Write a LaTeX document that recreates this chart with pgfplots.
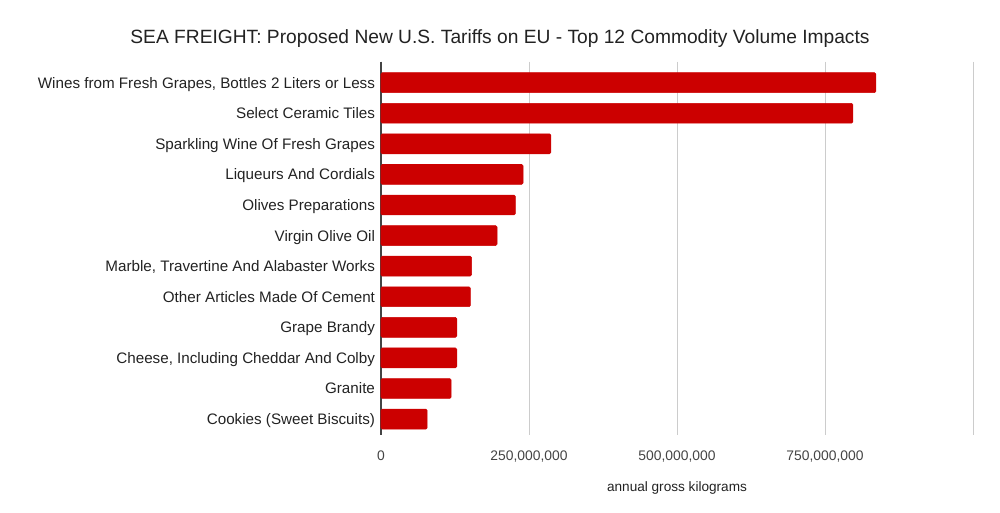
\documentclass[border=0pt]{standalone}
\usepackage{pgfplots}
\pgfplotsset{compat=1.18}
\usepackage{fontspec}
\setmainfont{Liberation Sans}
\definecolor{barred}{HTML}{CC0000}
\definecolor{txt}{HTML}{222222}
\definecolor{ticktxt}{HTML}{444444}
\definecolor{gridc}{HTML}{CCCCCC}
\begin{document}
\begin{tikzpicture}
\path[use as bounding box] (-285.75pt,-58.5pt) rectangle (464.25pt,326.25pt);
\begin{axis}[
  at={(0pt,0pt)}, anchor=south west,
  scale only axis,
  width=444pt, height=280pt,
  xbar, bar width=0.65,
  xmin=0, xmax=1000000000,
  ymin=-0.687, ymax=11.52,
  y dir=reverse,
  ytick={0,...,11},
  yticklabels={{Wines from Fresh Grapes, Bottles 2 Liters or Less},{Select Ceramic Tiles},{Sparkling Wine Of Fresh Grapes},{Liqueurs And Cordials},{Olives Preparations},{Virgin Olive Oil},{Marble, Travertine And Alabaster Works},{Other Articles Made Of Cement},{Grape Brandy},{Cheese, Including Cheddar And Colby},{Granite},{Cookies (Sweet Biscuits)}},
  xtick={0,250000000,500000000,750000000,1000000000},
  xticklabels={0,{250,000,000},{500,000,000},{750,000,000},{}},
  scaled x ticks=false,
  xmajorgrids, grid style={gridc, line width=0.6pt},
  axis x line*=bottom, axis y line*=left,
  x axis line style={draw=none},
  y axis line style={draw=ticktxt, line width=0.8pt},
  major tick length=0pt,
  tick style={draw=none},
  yticklabel style={font=\fontsize{11.4}{13}\selectfont, text=txt, xshift=-1pt, yshift=-1.2pt, anchor=east, text height=8.2pt, text depth=2.4pt},
  xticklabel style={font=\fontsize{10.4}{12}\selectfont, text=ticktxt, yshift=-8pt},
  xlabel={annual gross kilograms},
  xlabel style={font=\fontsize{10.2}{12}\selectfont, text=txt, yshift=-8pt},
  clip=false,
]
\addplot[fill=barred, draw=barred, rounded corners=1pt] coordinates {
(836000000,0)
(797000000,1)
(287000000,2)
(240000000,3)
(227000000,4)
(196000000,5)
(153000000,6)
(151000000,7)
(128000000,8)
(128000000,9)
(118500000,10)
(78000000,11)
};
\end{axis}
\node[font=\fontsize{14.4}{17}\selectfont, text=txt] at (89.25pt,297pt) {SEA FREIGHT: Proposed New U.S. Tariffs on EU - Top 12 Commodity Volume Impacts};
\end{tikzpicture}
\end{document}
